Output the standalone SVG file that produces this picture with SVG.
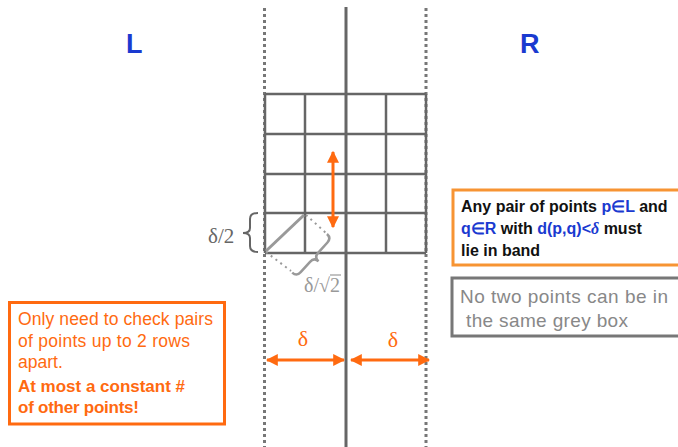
<svg xmlns="http://www.w3.org/2000/svg" width="678" height="447" viewBox="0 0 678 447">
<style>
.grid{stroke:#666;stroke-width:2.5;fill:none}
.dot{stroke:#777;stroke-width:3;stroke-dasharray:3 3;fill:none}
.oarr{stroke:#FF6A10;stroke-width:3;fill:none}
.sans{font-family:"Liberation Sans",Arial,sans-serif}
.serif{font-family:"Liberation Serif","Times New Roman",serif}
.blue{fill:#1A3AD0}
.side{font-weight:bold;font-size:27px;fill:#1A3AD0}
.otext{font-size:17.5px;fill:#FF6A10}
</style>
<defs>
<marker id="ah" viewBox="0 0 10 10" refX="9" refY="5" markerWidth="4" markerHeight="4" orient="auto-start-reverse" markerUnits="strokeWidth">
<path d="M0,0 L10,5 L0,10 Z" fill="#FF6A10"/>
</marker>
</defs>
<g id="labels-LR">
<text class="sans side" x="126" y="53">L</text>
<text class="sans side" x="520" y="53">R</text>
</g>
<g id="band-lines">
<line class="dot" x1="264.5" y1="8" x2="264.5" y2="447"/>
<line class="dot" x1="426" y1="8" x2="426" y2="447"/>
<line x1="346" y1="7" x2="346" y2="447" stroke="#666" stroke-width="3"/>
</g>
<g id="grid">
<line class="grid" x1="265" y1="94" x2="426" y2="94"/>
<line class="grid" x1="265" y1="134" x2="426" y2="134"/>
<line class="grid" x1="265" y1="174" x2="426" y2="174"/>
<line class="grid" x1="265" y1="213" x2="426" y2="213"/>
<line class="grid" x1="265" y1="253" x2="426" y2="253"/>
<line class="grid" x1="265" y1="94" x2="265" y2="253"/>
<line class="grid" x1="305" y1="94" x2="305" y2="253"/>
<line class="grid" x1="386" y1="94" x2="386" y2="253"/>
<line class="grid" x1="426" y1="94" x2="426" y2="253"/>
</g>
<g id="half-delta">
<path d="M258,213 Q250,213 250,219 L250,228 Q250,233 243,233 Q250,233 250,238 L250,246 Q250,252 258,252" fill="none" stroke="#666" stroke-width="2"/>
<text class="serif" x="208" y="243" font-size="21" fill="#666">δ/2</text>
</g>
<g id="diagonal">
<line x1="266" y1="251" x2="304" y2="215" stroke="#999" stroke-width="3"/>
<line x1="266" y1="252" x2="291" y2="271" stroke="#999" stroke-width="2" stroke-dasharray="2 4"/>
<line x1="306" y1="215" x2="326" y2="233" stroke="#999" stroke-width="2" stroke-dasharray="2 4"/>
<path transform="translate(327,234) rotate(132)" d="M0,0 Q0,-6 6,-6 L20,-6 Q26,-6 26,-12 Q26,-6 32,-6 L46,-6 Q52,-6 52,0" fill="none" stroke="#999" stroke-width="2.5"/>
<text class="serif" x="304" y="292" font-size="20" fill="#999">δ/√2</text>
<line x1="330" y1="275" x2="341" y2="275" stroke="#999" stroke-width="1.2"/>
</g>
<g id="connectors">
<line class="oarr" x1="333" y1="152" x2="333" y2="227" stroke-width="2.5" marker-start="url(#ah)" marker-end="url(#ah)"/>
<line class="oarr" x1="267" y1="360" x2="344" y2="360" marker-start="url(#ah)" marker-end="url(#ah)"/>
<line class="oarr" x1="351" y1="360" x2="429" y2="360" marker-start="url(#ah)" marker-end="url(#ah)"/>
</g>
<g id="delta-labels">
<text class="serif" x="303" y="346" font-size="22" fill="#FF6A10" text-anchor="middle">δ</text>
<text class="serif" x="393" y="347" font-size="22" fill="#FF6A10" text-anchor="middle">δ</text>
</g>
<g id="band-box">
<rect x="453" y="190" width="240" height="75" fill="#fff" stroke="#F79433" stroke-width="3"/>
<text class="sans" font-size="16" font-weight="bold" fill="#111">
<tspan x="461" y="212">Any pair of points <tspan class="blue">p∈L</tspan> and</tspan>
<tspan x="461" y="234"><tspan class="blue">q∈R</tspan> with <tspan class="blue">d(p,q)&lt;<tspan font-style="italic" font-family="Liberation Serif,serif">δ</tspan></tspan> must</tspan>
<tspan x="461" y="256">lie in band</tspan>
</text>
</g>
<g id="grey-box">
<rect x="452" y="278" width="240" height="58" fill="#fff" stroke="#777" stroke-width="3"/>
<text class="sans" font-size="19" fill="#888">
<tspan x="460" y="303" textLength="208">No two points can be in</tspan>
<tspan x="466" y="327" textLength="162">the same grey box</tspan>
</text>
</g>
<g id="check-box">
<rect x="9.5" y="302.5" width="215" height="121.5" fill="#fff" stroke="#FF6A10" stroke-width="3"/>
<text class="sans otext">
<tspan x="18" y="325" textLength="195">Only need to check pairs</tspan>
<tspan x="18" y="347" textLength="172">of points up to 2 rows</tspan>
<tspan x="18" y="368">apart.</tspan>
<tspan x="18" y="392" font-weight="bold" font-size="17" textLength="167">At most a constant #</tspan>
<tspan x="18" y="413" font-weight="bold" font-size="17" textLength="121">of other points!</tspan>
</text>
</g>
</svg>
